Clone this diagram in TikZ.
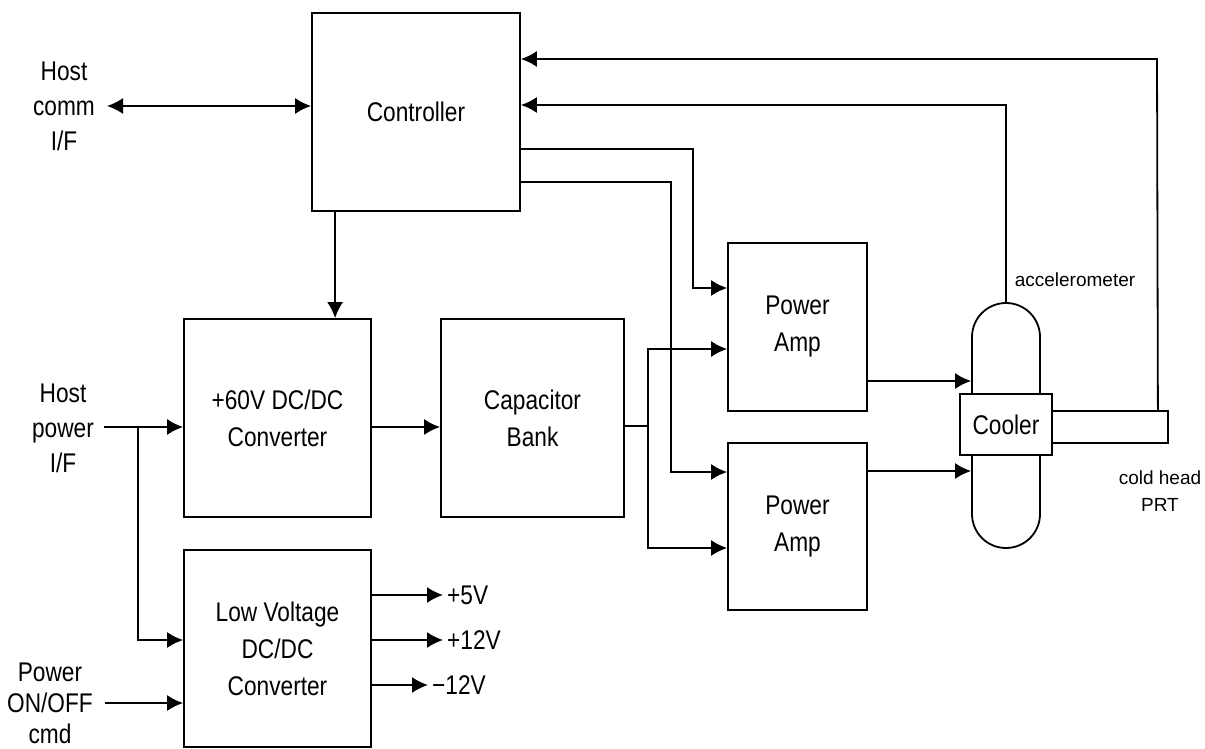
\documentclass[tikz,border=0pt]{standalone}
\usepackage{fontspec}
\setmainfont[FakeStretch=0.84]{Liberation Sans}
\newfontfamily\smallfont{Liberation Sans}
\usetikzlibrary{arrows.meta}

\begin{document}
\begin{tikzpicture}[x=1pt, y=-1pt, line width=1.8pt,
    >={Latex[length=16pt,width=16pt]},
    blk/.style={draw, align=center, font=\fontsize{27}{37}\selectfont},
    lbl/.style={align=center, font=\fontsize{27}{35}\selectfont}]
    \useasboundingbox (0,0) rectangle (1205,749);

    % blocks
    \node[blk, minimum width=208pt, minimum height=198pt] (ctrl) at (416,112) {Controller};
    \node[blk, minimum width=187pt, minimum height=198pt] (hv) at (277.5,418) {+60V DC/DC\\Converter};
    \node[blk, minimum width=183pt, minimum height=198pt] (cap) at (532.5,418) {Capacitor\\Bank};
    \node[blk, minimum width=139pt, minimum height=168pt] (pa1) at (797.5,327) {Power\\Amp};
    \node[blk, minimum width=139pt, minimum height=167pt] (pa2) at (797.5,526.5) {Power\\Amp};
    \node[blk, minimum width=187pt, minimum height=197pt] (lv) at (277.5,648.5) {Low Voltage\\DC/DC\\Converter};

    % cooler
    \node[draw, rounded corners=34pt, minimum width=68pt, minimum height=245pt] (caps) at (1006,425.5) {};
    \node[blk, fill=white, minimum width=116pt, minimum height=32pt] (bar) at (1110,427) {};
    \node[blk, fill=white, minimum width=92pt, minimum height=61pt] (cool) at (1006,424.5) {Cooler};

    % labels
    \node[lbl] (hc) at (64,106) {Host\\comm\\I/F};
    \node[lbl] (hp) at (63,428) {Host\\power\\I/F};
    \node[lbl, font=\fontsize{27}{31}\selectfont] (pw) at (50,703) {Power\\ON/OFF\\cmd};
    \node[font=\smallfont\fontsize{19}{26}\selectfont] (acc) at (1075,280) {accelerometer};
    \node[align=center, font=\smallfont\fontsize{19}{27}\selectfont] (prt) at (1160,491) {cold head\\PRT};
    \node[lbl, anchor=west] (v5) at (443,595) {+5V};
    \node[lbl, anchor=west] (v12) at (443,640) {+12V};
    \node[lbl, anchor=west] (vm12) at (428,685) {−12V};

    % free ends and junctions
    \coordinate (hcL) at (107,106);
    \coordinate (hpL) at (104,427);
    \coordinate (hpB) at (138,427);
    \coordinate (pwL) at (105,703);
    \coordinate (cj) at (648,426);

    % connectors
    \draw[<->] (hcL) -- (ctrl.west |- hcL);
    \draw[->] ([xshift=24pt]ctrl.south west) -- ([xshift=24pt]ctrl.south west |- hv.north);
    \draw[->] (hpL) -- (hv.west |- hpL);
    \draw[->] (hpB) |- (lv.west |- 0,640);
    \draw[->] (pwL) -- (lv.west |- pwL);
    \draw[->] (hv.east |- 0,427) -- (cap.west |- 0,427);
    \draw (cap.east |- cj) -- (cj);
    \draw[->] (cj) |- (pa1.west |- 0,349);
    \draw[->] (cj) |- (pa2.west |- 0,548);
    \draw[->] (ctrl.east |- 0,149) -- (693,149) |- (pa1.west |- 0,288);
    \draw[->] (ctrl.east |- 0,182) -- (671,182) |- (pa2.west |- 0,472);
    \draw[->] (pa1.east |- 0,381) -- (caps.west |- 0,381);
    \draw[->] (pa2.east |- 0,471) -- (caps.west |- 0,471);
    \draw[->] (caps.north) -- (1006,105) -- (ctrl.east |- 0,105);
    \draw[->] ([xshift=-11pt]bar.north east) -- (1157,59) -- (ctrl.east |- 0,59);
    \draw[->] (lv.east |- 0,595) -- (v5.west);
    \draw[->] (lv.east |- 0,640) -- (v12.west);
    \draw[->] (lv.east |- 0,685) -- (vm12.west);
\end{tikzpicture}
\end{document}
